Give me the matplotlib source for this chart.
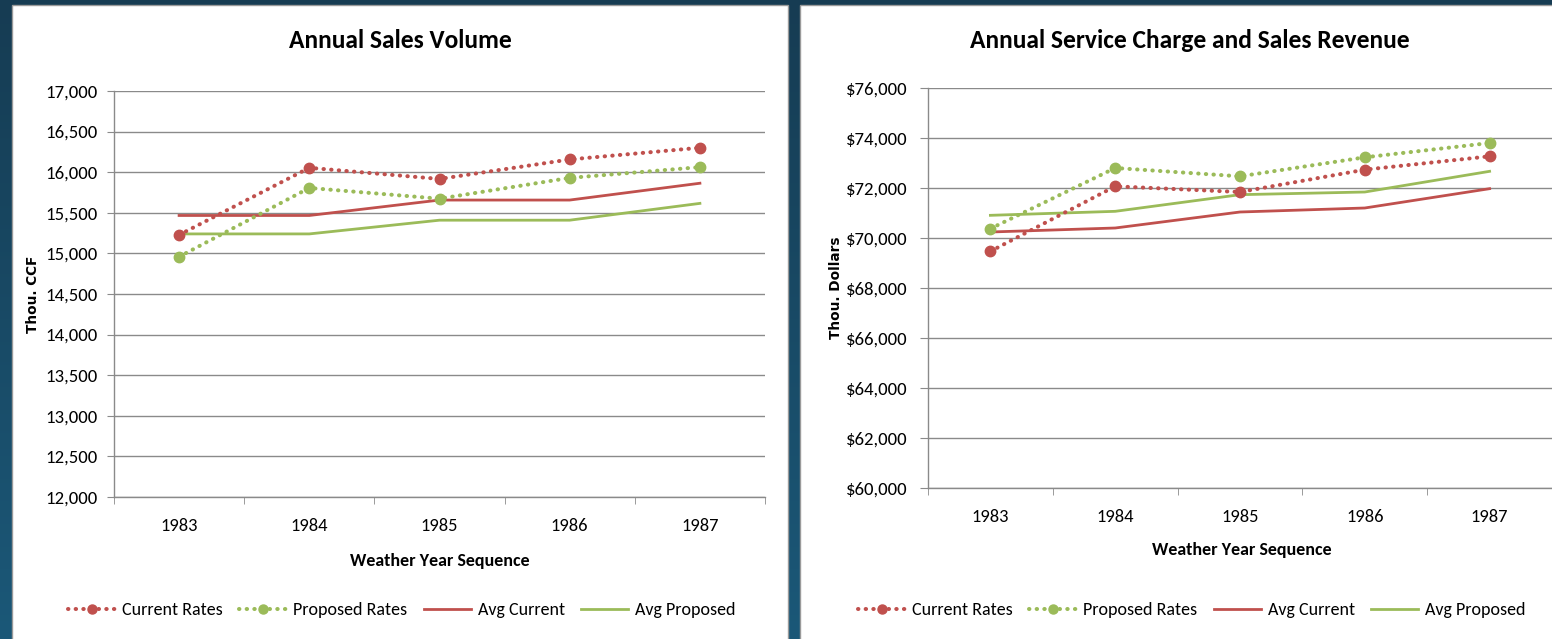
import matplotlib
matplotlib.use("Agg")
import matplotlib.pyplot as plt
import numpy as np
from matplotlib.ticker import FuncFormatter
from matplotlib.lines import Line2D
from matplotlib.patches import Rectangle
from matplotlib.colors import LinearSegmentedColormap
from matplotlib import font_manager as fm

years = ["1983", "1984", "1985", "1986", "1987"]

vol_current = [15228, 16054, 15917, 16157, 16301]
vol_proposed = [14959, 15806, 15674, 15930, 16062]
vol_avg_current = [15467, 15467, 15657, 15657, 15864]
vol_avg_proposed = [15240, 15240, 15409, 15409, 15616]

rev_current = [69467, 72067, 71840, 72733, 73267]
rev_proposed = [70373, 72800, 72467, 73227, 73800]
rev_avg_current = [70240, 70400, 71040, 71200, 71973]
rev_avg_proposed = [70907, 71067, 71733, 71840, 72667]

series_names = ["Current Rates", "Proposed Rates", "Avg Current", "Avg Proposed"]

RED = "#C0504D"
GREEN = "#9BBB59"
GRID = "#8a8a8a"

available = {f.name for f in fm.fontManager.ttflist}
main_font = "DejaVu Sans"
for cand in ["Carlito", "Liberation Sans Narrow", "PT Sans Narrow", "IBM Plex Sans Condensed", "Open Sans"]:
    if cand in available:
        main_font = cand
        break
plt.rcParams['font.family'] = [main_font, "DejaVu Sans"]

W, H = 1552, 639
fig = plt.figure(figsize=(W / 100, H / 100), dpi=100)

# background gradient
bg = fig.add_axes([0, 0, 1, 1], zorder=-10)
grad = np.linspace(0, 1, 256).reshape(-1, 1)
cmap = LinearSegmentedColormap.from_list("bg", ["#163c53", "#1b5878"])
bg.imshow(grad, aspect="auto", cmap=cmap, extent=[0, 1, 0, 1], origin="upper")
bg.set_xlim(0, 1); bg.set_ylim(0, 1)
bg.axis("off")

def px(x0, y0, x1, y1):
    return [x0 / W, 1 - y1 / H, (x1 - x0) / W, (y1 - y0) / H]

# white panels
for (x0, y0, x1, y1) in [(12, 5, 788, 645), (800, 5, 1560, 645)]:
    bg.add_patch(Rectangle((x0 / W, 1 - y1 / H), (x1 - x0) / W, (y1 - y0) / H,
                           transform=bg.transAxes, facecolor="white",
                           edgecolor="#9a9a9a", linewidth=1.0, zorder=2))

def style_axes(ax, ylim, yticks, fmt, xmax, ytick_len, ypad):
    ax.set_xlim(-0.5, xmax)
    ax.set_ylim(*ylim)
    ax.set_yticks(yticks)
    ax.yaxis.set_major_formatter(FuncFormatter(fmt))
    ax.set_xticks(range(len(years)))
    ax.set_xticklabels(years)
    ax.set_xticks(np.arange(-0.5, len(years) + 0.5, 1), minor=True)
    ax.tick_params(axis="x", which="major", length=0, pad=15, labelsize=13.3)
    ax.tick_params(axis="x", which="minor", length=5, color=GRID, direction="out")
    ax.tick_params(axis="y", length=ytick_len, color=GRID, direction="out",
                   labelsize=13.5, pad=ypad)
    ax.grid(axis="y", color=GRID, linewidth=1.0)
    ax.set_axisbelow(True)
    for s in ["top", "right"]:
        ax.spines[s].set_visible(False)
    for s in ["left", "bottom"]:
        ax.spines[s].set_color(GRID)
        ax.spines[s].set_linewidth(1.0)
    ax.set_facecolor("none")

DOT = (0, (0.1, 1.8))
DLW = 2.9
MS = 7.5

def draw(ax, cur, prop, acur, aprop):
    x = np.arange(len(years))
    ax.plot(x, acur, color=RED, lw=2.0, zorder=3)
    ax.plot(x, aprop, color=GREEN, lw=2.0, zorder=3)
    ax.plot(x, prop, color=GREEN, lw=DLW, linestyle=DOT, dash_capstyle="round",
            marker="o", markersize=MS, zorder=4)
    ax.plot(x, cur, color=RED, lw=DLW, linestyle=DOT, dash_capstyle="round",
            marker="o", markersize=MS, zorder=4)

def handles():
    return [
        Line2D([], [], color=RED, lw=DLW, linestyle=DOT, dash_capstyle="round", marker="o", markersize=6.5),
        Line2D([], [], color=GREEN, lw=DLW, linestyle=DOT, dash_capstyle="round", marker="o", markersize=6.5),
        Line2D([], [], color=RED, lw=2.0),
        Line2D([], [], color=GREEN, lw=2.0),
    ]

# left chart
ax1 = fig.add_axes(px(114, 91, 765, 497))
style_axes(ax1, (12000, 17000), np.arange(12000, 17001, 500),
           lambda v, p: f"{int(v):,}", 4.5, 5, 7)
draw(ax1, vol_current, vol_proposed, vol_avg_current, vol_avg_proposed)

# right chart
ax2 = fig.add_axes(px(928, 88, 1552, 488))
style_axes(ax2, (60000, 76000), np.arange(60000, 76001, 2000),
           lambda v, p: f"${int(v):,}", -0.5 + (1552 - 928) / 128.0, 6, 9)
draw(ax2, rev_current, rev_proposed, rev_avg_current, rev_avg_proposed)

# titles
fig.text(400 / W, 1 - 41 / H, "Annual Sales Volume", ha="center", va="center",
         fontsize=18.4, fontweight="bold")
fig.text(1190 / W, 1 - 41 / H, "Annual Service Charge and Sales Revenue", ha="center",
         va="center", fontsize=18.4, fontweight="bold")

# axis labels
fig.text(440 / W, 1 - 561 / H, "Weather Year Sequence", ha="center", va="center",
         fontsize=13, fontweight="bold")
fig.text(1242 / W, 1 - 550 / H, "Weather Year Sequence", ha="center", va="center",
         fontsize=13, fontweight="bold")
fig.text(33 / W, 1 - 294 / H, "Thou. CCF", ha="center", va="center", rotation=90,
         fontsize=9.8, fontweight="bold", family=["DejaVu Sans"])
fig.text(836 / W, 1 - 288 / H, "Thou. Dollars", ha="center", va="center", rotation=90,
         fontsize=9.8, fontweight="bold", family=["DejaVu Sans"])

# legends
for cx in (402, 1192):
    fig.legend(handles(), series_names, loc="center", ncol=4,
               bbox_to_anchor=(cx / W, 1 - 610 / H), frameon=False,
               fontsize=13, handlelength=2.6, columnspacing=0.9, handletextpad=0.4,
               borderpad=0, borderaxespad=0)

fig.savefig("out.png", dpi=100)
